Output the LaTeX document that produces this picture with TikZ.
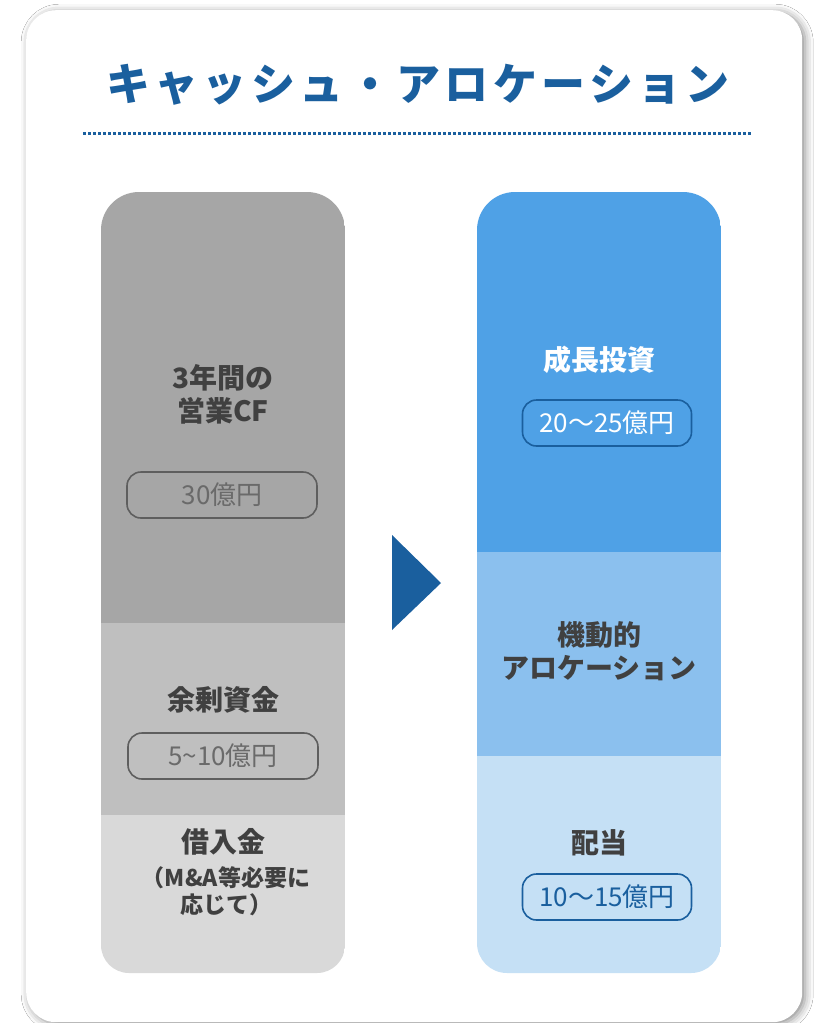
\documentclass[tikz,border=0pt]{standalone}
\usepackage{fontspec}
\setmainfont{Noto Sans CJK JP}
\newfontfamily\titlefont[LetterSpace=10]{Noto Sans CJK JP}
\usetikzlibrary{shadows.blur}
\definecolor{titleblue}{HTML}{1A5F9E}
\definecolor{gA}{HTML}{A6A6A6}
\definecolor{gB}{HTML}{BFBFBF}
\definecolor{gC}{HTML}{D9D9D9}
\definecolor{bA}{HTML}{4FA1E6}
\definecolor{bB}{HTML}{8BC0EE}
\definecolor{bC}{HTML}{C5E0F5}
\definecolor{txt}{HTML}{404040}
\definecolor{pillgrey}{HTML}{5E5E5E}
\definecolor{pilltext}{HTML}{6A6A6A}
\begin{document}
\begin{tikzpicture}[x=1pt,y=-1pt,
  lab/.style={font=\bfseries\fontsize{28}{33}\selectfont, text=txt, align=center, inner sep=0pt},
  sublab/.style={font=\bfseries\fontsize{23}{27}\selectfont, text=txt, align=center, inner sep=0pt},
  pill/.style={draw, line width=1.6pt, rounded corners=14pt, minimum height=46pt, inner sep=0pt, font=\fontsize{26}{30}\selectfont},
  sec/.style={anchor=north west, inner sep=0pt, outer sep=0pt, minimum width=244pt},
  cardstyle/.style={fill=white, rounded corners=30pt, anchor=north west, inner sep=0pt,
     minimum width=776pt, minimum height=1012pt,
     blur shadow={shadow xshift=3pt, shadow yshift=-2pt, shadow blur radius=8pt, shadow opacity=45}},
  dots/.style={draw=titleblue, line width=3pt, dash pattern=on 3pt off 2pt},
]
\useasboundingbox (0,0) rectangle (818,1023);
\fill[white] (0,0) rectangle (818,1023);
\node (card) [cardstyle] at (26,10) {};
\node (title) [font=\titlefont\bfseries\fontsize{44}{50}\selectfont, text=titleblue, inner sep=0pt] at (418,85) {キャッシュ・アロケーション};
\coordinate (dl) at (83,133);
\coordinate (dr) at (751,133);
\draw[dots] (dl) -- (dr);

% left column
\begin{scope}
\clip[rounded corners=38pt] (101,600) -- (101,192) -- (345,192) -- (345,600) [rounded corners=28pt] -- (345,973) -- (101,973) -- cycle;
\node (cfop) [sec, fill=gA, minimum height=432pt] at (101,192) {};
\node (surplus) [sec, fill=gB, minimum height=193pt] at (101,623) {};
\node (debt) [sec, fill=gC, minimum height=160pt] at (101,815) {};
\end{scope}
\node (cflab) [lab] at (223,394) {3年間の\\営業CF};
\node (cfpill) [pill, draw=pillgrey, text=pilltext, minimum width=190pt] at (222,495) {30億円};
\node (surlab) [lab] at (223,700) {余剰資金};
\node (surpill) [pill, draw=pillgrey, text=pilltext, minimum width=190pt] at (223,756) {5\textasciitilde 10億円};
\node (debtlab) [lab] at (223,842) {借入金};
\node (debtsub) [sublab] at (226,891) {（M\&A等必要に\\応じて）};

% arrow
\fill[titleblue] (392,535) -- (441,583) -- (392,630) -- cycle;

% right column
\begin{scope}
\clip[rounded corners=38pt] (477,600) -- (477,192) -- (721,192) -- (721,600) [rounded corners=30pt] -- (721,973) -- (477,973) -- cycle;
\node (growth) [sec, fill=bA, minimum height=361pt] at (477,192) {};
\node (flex) [sec, fill=bB, minimum height=205pt] at (477,552) {};
\node (div) [sec, fill=bC, minimum height=218pt] at (477,756) {};
\end{scope}
\node (growlab) [lab, text=white] at (599,360) {成長投資};
\node (growpill) [pill, draw=titleblue, text=white, minimum width=169pt] at (607,423) {20〜25億円};
\node (flexlab) [lab] at (599,651) {機動的\\アロケーション};
\node (divlab) [lab] at (599,843) {配当};
\node (divpill) [pill, draw=titleblue, text=titleblue, minimum width=169pt] at (607,897) {10〜15億円};
\end{tikzpicture}
\end{document}
